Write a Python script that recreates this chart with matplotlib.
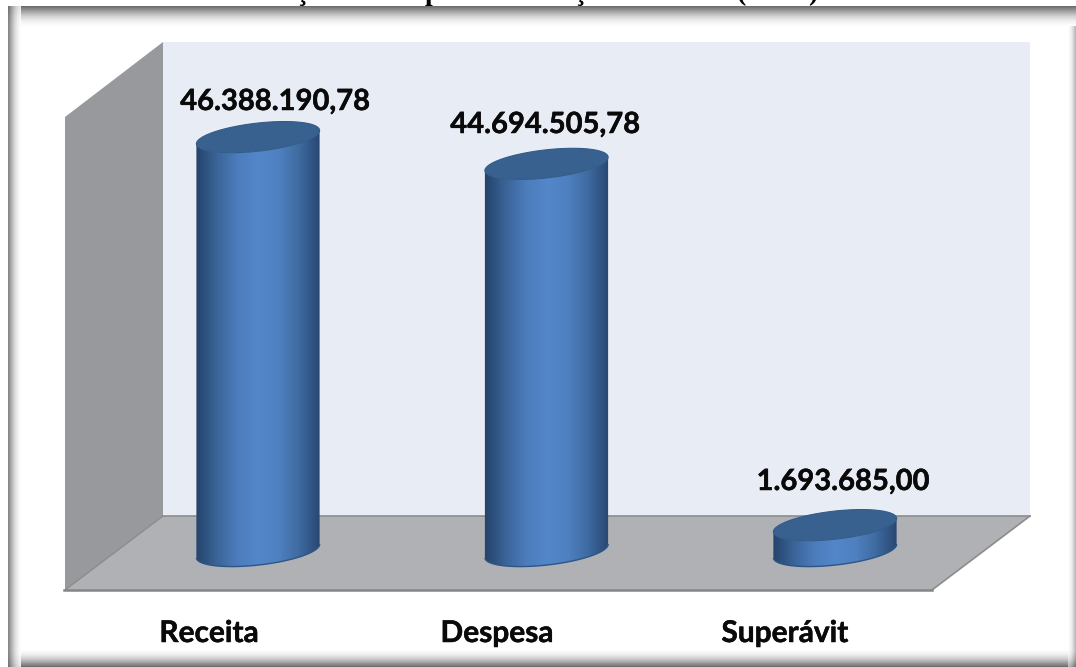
import numpy as np
import matplotlib
matplotlib.use("Agg")
import matplotlib.pyplot as plt
import matplotlib.patheffects as pe
from matplotlib.colors import LinearSegmentedColormap
from matplotlib.patches import Polygon, Rectangle
from matplotlib.transforms import IdentityTransform

# Data
categories = ["Receita", "Despesa", "Superávit"]
value_labels = ["46.388.190,78", "44.694.505,78", "1.693.685,00"]
# bar heights as drawn in the picture, in millions
heights = [46.4, 43.4, 2.9]
# what is left of the title, cut off at the top edge
title_bits = ["ç", "p", "ç", "(", ")"]
title_x = [302, 432, 580, 741, 813]

W, H = 1076, 667
fig = plt.figure(figsize=(W / 100, H / 100), dpi=100, facecolor="white")

# background axes in pixels, for the frame and the 3D box
bg = fig.add_axes([0, 0, 1, 1], zorder=0)
bg.set_xlim(0, W)
bg.set_ylim(H, 0)
bg.axis("off")

shadow = LinearSegmentedColormap.from_list("shadow", ["#6a6a6a", "#a0a0a0", "#d0d0d0", "#efefef", "#ffffff"])
ramp = np.linspace(0, 1, 64)
bg.imshow(ramp[:, None], extent=(8, W, 26, 6), cmap=shadow, aspect="auto", zorder=2)
bg.imshow(ramp[None, :], extent=(8, 21, H, 6), cmap=shadow, aspect="auto", alpha=0.85, zorder=2)
bg.imshow(ramp[::-1, None], extent=(8, W, H, 650), cmap=shadow, aspect="auto", zorder=1)
bg.imshow(ramp[None, ::-1], extent=(1068, W, H, 6), cmap=shadow, aspect="auto", alpha=0.5, zorder=1)
bg.set_xlim(0, W)
bg.set_ylim(H, 0)

for t, x in zip(title_bits, title_x):
    bg.text(x, 0, t, fontsize=20, fontweight="bold", family="Liberation Serif",
            ha="center", va="baseline", color="black", zorder=3,
            clip_on=True, clip_path=Rectangle((0, 0), W, 6, transform=bg.transData))

# walls and floor
bg.add_patch(Polygon([(163, 42), (1030, 42), (1030, 516), (163, 516)], fc="#e8ecf5", ec="none", zorder=3))
bg.add_patch(Polygon([(65, 117), (163, 42), (163, 516), (65, 590)], fc="#98999c", ec="none", zorder=3))
bg.add_patch(Polygon([(65, 590), (163, 516), (1030, 516), (932, 590)], fc="#afb1b4", ec="none", zorder=3))
bg.plot([163, 1030], [516, 516], color="#8c8c8c", lw=1.2, zorder=4)
bg.plot([65, 163], [590, 516], color="#8c8c8c", lw=1.0, zorder=4)
bg.plot([932, 1030], [590, 516], color="#8c8c8c", lw=1.2, zorder=4)
bg.plot([64, 932], [590, 590], color="#858585", lw=1.8, zorder=4)

# chart axes, category index on x and millions on y
ax = fig.add_axes([0, 0, 1, 1], zorder=1)
ax.patch.set_alpha(0)
ax.axis("off")
xlim = (-258 / 288.5, (W - 258) / 288.5)
ylim = ((551 - H) / 8.92, 551 / 8.92)
ax.set_xlim(xlim)
ax.set_ylim(ylim)

side_cmap = LinearSegmentedColormap.from_list(
    "side", ["#25426a", "#3a6497", "#4c7cbb", "#5387ca", "#4f80c0", "#3e6a9f", "#274670"])
ramp_x = np.linspace(0, 1, 128)[None, :]
half_w = 63 / 288.5


def ellipse(cx, cy, t):
    a, b, th = 62, 14, np.radians(6.5)
    return np.column_stack([cx + a * np.cos(t) * np.cos(th) - b * np.sin(t) * np.sin(th),
                            cy + a * np.cos(t) * np.sin(th) + b * np.sin(t) * np.cos(th)])


for i, h in enumerate(heights):
    cx, y0 = ax.transData.transform((i, 0))
    cx, y1 = ax.transData.transform((i, h))

    low = np.linspace(np.pi, 2 * np.pi, 60)
    side = np.vstack([ellipse(cx, y0, low), ellipse(cx, y1, low[::-1])])
    clip = Polygon(side, closed=True, transform=IdentityTransform(), fc="none", ec="none")
    ax.add_patch(clip)
    im = ax.imshow(ramp_x, extent=(i - half_w, i + half_w, -3, h + 3), cmap=side_cmap,
                   aspect="auto", zorder=2)
    im.set_clip_path(clip)
    ax.add_patch(Polygon(ellipse(cx, y0, low), closed=False, transform=IdentityTransform(),
                         fc="none", ec="#2d5586", lw=1.0, zorder=3))
    ax.add_patch(Polygon(ellipse(cx, y1, np.linspace(0, 2 * np.pi, 120)), transform=IdentityTransform(),
                         fc="#38618f", ec="#335c8b", lw=0.8, zorder=4))

ax.set_xlim(xlim)
ax.set_ylim(ylim)

# labels, a thin stroke makes Lato bold closer to the heavy original
heavy = [pe.withStroke(linewidth=0.35, foreground="#0a0a0a")]
label_x = [275, 545, 843]
label_y = [102, 125, 482]
cat_x = [209, 497, 785]
for lx, ly, s in zip(label_x, label_y, value_labels):
    ax.annotate(s, xy=(lx / W, 1 - ly / H), xycoords="figure fraction", ha="center", va="center",
                fontsize=21, fontweight="bold", family="Lato", color="#0a0a0a", zorder=6,
                path_effects=heavy)
for cxp, s in zip(cat_x, categories):
    ax.annotate(s, xy=(cxp / W, 1 - 633 / H), xycoords="figure fraction", ha="center", va="center",
                fontsize=21.5, fontweight="bold", family="Lato", color="#0a0a0a", zorder=6,
                path_effects=heavy)

fig.savefig("out.png", dpi=100)
